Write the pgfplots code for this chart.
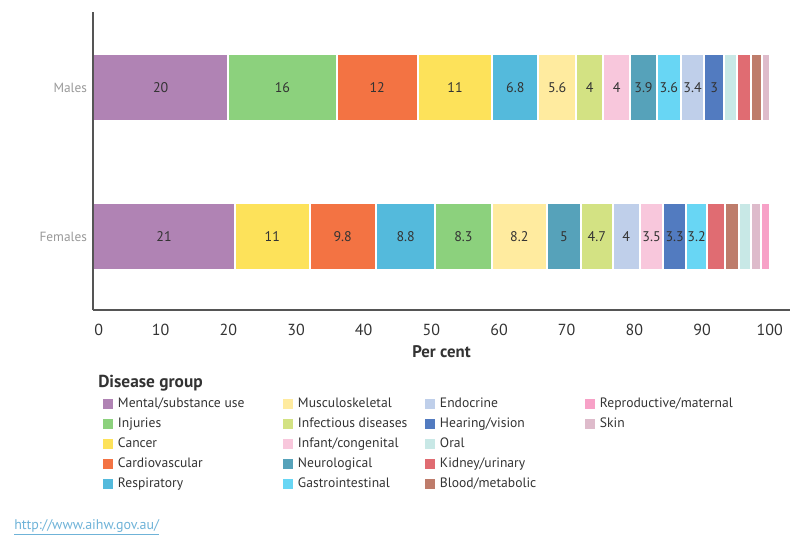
\documentclass[border=0pt]{standalone}
\usepackage{pgfplots}
\pgfplotsset{compat=1.18}
\usepackage{fontspec}
\setmainfont{PT Sans}
\definecolor{cMen}{HTML}{B083B4}
\definecolor{cInj}{HTML}{8CD17D}
\definecolor{cCar}{HTML}{F37343}
\definecolor{cCan}{HTML}{FDE25A}
\definecolor{cRes}{HTML}{54BADC}
\definecolor{cMus}{HTML}{FFEB9F}
\definecolor{cInf}{HTML}{D3E283}
\definecolor{cIfc}{HTML}{F8C7DC}
\definecolor{cNeu}{HTML}{56A2BA}
\definecolor{cGas}{HTML}{68D6F4}
\definecolor{cEnd}{HTML}{BFCFEA}
\definecolor{cHea}{HTML}{527BC0}
\definecolor{cOra}{HTML}{C8E8E6}
\definecolor{cKid}{HTML}{E06C72}
\definecolor{cBlo}{HTML}{BE7C6B}
\definecolor{cSki}{HTML}{DEBBCB}
\definecolor{cRep}{HTML}{F7A1C7}
\definecolor{axisgray}{HTML}{555555}
\definecolor{labgray}{HTML}{999999}
\definecolor{txtgray}{HTML}{333333}
\definecolor{urlblue}{HTML}{6FB3D8}
\pgfplotsset{
  base/.style={
    at={(69.75pt,-232.5pt)}, anchor=south west,
    width=522.75pt, height=223.5pt, scale only axis,
    xmin=0, xmax=103, ymin=-0.49, ymax=1.51,
    xbar stacked, bar width=50.25pt,
    every axis plot/.append style={draw=white, line width=1.5pt, forget plot},
  },
  lab/.style={nodes near coords, point meta=explicit symbolic,
    every node near coord/.append style={font=\fontsize{10.5pt}{12pt}\selectfont, text=txtgray}},
}
\newcommand\LA[1]{\makebox[127.5pt][l]{\hspace{3.75pt}#1}}
\newcommand\LB[1]{\makebox[99pt][l]{\hspace{3.75pt}#1}}
\newcommand\LC[1]{\makebox[112.5pt][l]{\hspace{3.75pt}#1}}
\newcommand\LD[1]{\makebox[105pt][l]{\hspace{3.75pt}#1}}
\begin{document}
\begin{tikzpicture}
\useasboundingbox (0,0) rectangle (600pt,-412.5pt);
% Females bar (y = 0)
\begin{axis}[base, hide axis]
\addplot[fill=cMen, lab] coordinates {(21,0) [21]};
\addplot[fill=cCan, lab] coordinates {(11,0) [11]};
\addplot[fill=cCar, lab] coordinates {(9.8,0) [9.8]};
\addplot[fill=cRes, lab] coordinates {(8.8,0) [8.8]};
\addplot[fill=cInj, lab] coordinates {(8.3,0) [8.3]};
\addplot[fill=cMus, lab] coordinates {(8.2,0) [8.2]};
\addplot[fill=cNeu, lab] coordinates {(5,0) [5]};
\addplot[fill=cInf, lab] coordinates {(4.7,0) [4.7]};
\addplot[fill=cEnd, lab] coordinates {(4,0) [4]};
\addplot[fill=cIfc, lab] coordinates {(3.5,0) [3.5]};
\addplot[fill=cHea, lab] coordinates {(3.3,0) [3.3]};
\addplot[fill=cGas, lab] coordinates {(3.2,0) [3.2]};
\addplot[fill=cKid] coordinates {(2.6,0)};
\addplot[fill=cBlo] coordinates {(2.0,0)};
\addplot[fill=cOra] coordinates {(1.9,0)};
\addplot[fill=cSki] coordinates {(1.4,0)};
\addplot[fill=cRep] coordinates {(1.3,0)};
\end{axis}
% Males bar (y = 1) with the axis frame and legend
\begin{axis}[base, axis on top,
  axis x line*=bottom, axis y line*=left,
  axis line style={draw=axisgray, line width=1pt, -},
  xtick={0,10,...,100},
  xticklabels={\makebox[0pt][l]{\hspace{1pt}0},10,20,30,40,50,60,70,80,90,100},
  ytick={0,1}, yticklabels={Females,Males},
  major tick length=0pt,
  xticklabel style={font=\fontsize{12pt}{14pt}\selectfont, text=txtgray, yshift=-7pt},
  yticklabel style={font=\fontsize{10pt}{12pt}\selectfont, text=labgray, xshift=-1pt},
  /pgf/number format/assume math mode=true,
  xlabel={\textbf{Per cent}},
  xlabel style={at={(axis description cs:0.5,0)}, anchor=center, yshift=-31.5pt,
    font=\fontsize{12.6pt}{15pt}\selectfont, text=txtgray},
  legend columns=4,
  legend cell align=left,
  legend image code/.code={\path[#1, draw=none] (0pt,-3.75pt) rectangle (7.5pt,3.75pt);},
  legend style={at={(axis description cs:0.01435,-0.2819)}, anchor=north west,
    draw=none, fill=none, inner sep=0pt, outer sep=0pt, row sep=0pt, column sep=0pt,
    font=\fontsize{10.2pt}{12pt}\selectfont, text=txtgray,
    nodes={inner sep=0pt, minimum height=15pt, text height=7.5pt, text depth=2.5pt}},
]
\addplot[fill=cMen, lab] coordinates {(20,1) [20]};
\addplot[fill=cInj, lab] coordinates {(16,1) [16]};
\addplot[fill=cCar, lab] coordinates {(12,1) [12]};
\addplot[fill=cCan, lab] coordinates {(11,1) [11]};
\addplot[fill=cRes, lab] coordinates {(6.8,1) [6.8]};
\addplot[fill=cMus, lab] coordinates {(5.6,1) [5.6]};
\addplot[fill=cInf, lab] coordinates {(4,1) [4]};
\addplot[fill=cIfc, lab] coordinates {(4,1) [4]};
\addplot[fill=cNeu, lab] coordinates {(3.9,1) [3.9]};
\addplot[fill=cGas, lab] coordinates {(3.6,1) [3.6]};
\addplot[fill=cEnd, lab] coordinates {(3.4,1) [3.4]};
\addplot[fill=cHea, lab] coordinates {(3,1) [3]};
\addplot[fill=cOra] coordinates {(1.9,1)};
\addplot[fill=cKid] coordinates {(2.0,1)};
\addplot[fill=cBlo] coordinates {(1.7,1)};
\addplot[fill=cSki] coordinates {(1.1,1)};
% legend, filled row by row (reads column by column)
\addlegendimage{fill=cMen}\addlegendentry{\LA{Mental/substance use}}
\addlegendimage{fill=cMus}\addlegendentry{\LB{Musculoskeletal}}
\addlegendimage{fill=cEnd}\addlegendentry{\LC{Endocrine}}
\addlegendimage{fill=cRep}\addlegendentry{\LD{Reproductive/maternal}}
\addlegendimage{fill=cInj}\addlegendentry{\LA{Injuries}}
\addlegendimage{fill=cInf}\addlegendentry{\LB{Infectious diseases}}
\addlegendimage{fill=cHea}\addlegendentry{\LC{Hearing/vision}}
\addlegendimage{fill=cSki}\addlegendentry{\LD{Skin}}
\addlegendimage{fill=cCan}\addlegendentry{\LA{Cancer}}
\addlegendimage{fill=cIfc}\addlegendentry{\LB{Infant/congenital}}
\addlegendimage{fill=cOra}\addlegendentry{\LC{Oral}}
\addlegendimage{empty legend}\addlegendentry{}
\addlegendimage{fill=cCar}\addlegendentry{\LA{Cardiovascular}}
\addlegendimage{fill=cNeu}\addlegendentry{\LB{Neurological}}
\addlegendimage{fill=cKid}\addlegendentry{\LC{Kidney/urinary}}
\addlegendimage{empty legend}\addlegendentry{}
\addlegendimage{fill=cRes}\addlegendentry{\LA{Respiratory}}
\addlegendimage{fill=cGas}\addlegendentry{\LB{Gastrointestinal}}
\addlegendimage{fill=cBlo}\addlegendentry{\LC{Blood/metabolic}}
\addlegendimage{empty legend}\addlegendentry{}
\end{axis}
\node[anchor=west, inner sep=0pt, text=txtgray, font=\fontsize{13pt}{15pt}\selectfont\bfseries]
  at (73.5pt,-287.25pt) {Disease group};
\node[anchor=west, inner sep=0pt, text=urlblue, font=\fontsize{10.5pt}{12pt}\selectfont]
  at (10.5pt,-395.25pt) {\underline{http://www.aihw.gov.au/}};
\end{tikzpicture}
\end{document}
